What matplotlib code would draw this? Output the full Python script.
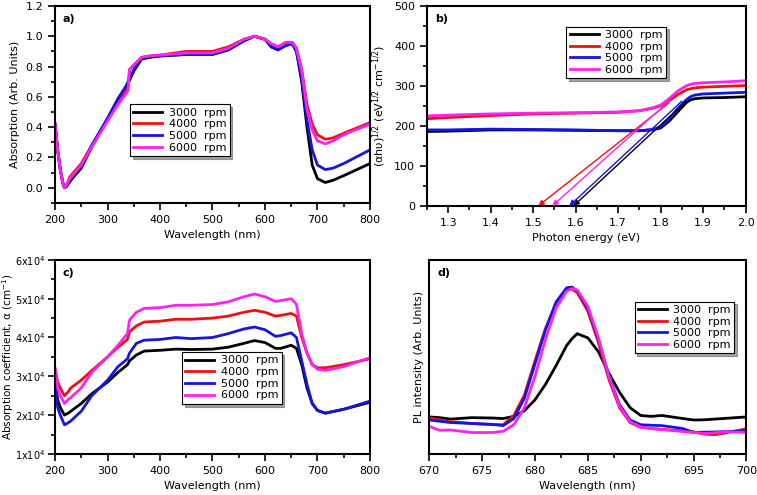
import numpy as np
import matplotlib
matplotlib.use('Agg')
from matplotlib import pyplot as plt
from matplotlib.ticker import MultipleLocator, FuncFormatter, NullLocator

labels = ['3000  rpm', '4000  rpm', '5000  rpm', '6000  rpm']
colors = ['black', '#ee1111', '#1515dd', '#ff22ee']

# a) absorption
wl_a = [200, 205, 210, 215, 218, 222, 228, 235, 250, 270, 300, 320, 335, 339, 342, 350, 365, 380, 400,
        450, 500, 530, 560, 580, 600, 612, 625, 640, 652, 660, 670, 680, 690, 700, 715, 730, 750, 800]
abs_3000 = [0.42, 0.25, 0.12, 0.03, 0.0, 0.01, 0.04, 0.07, 0.13, 0.27, 0.45, 0.58, 0.66, 0.69, 0.71, 0.77, 0.85, 0.86, 0.87,
            0.88, 0.88, 0.91, 0.97, 1.0, 0.98, 0.93, 0.91, 0.94, 0.95, 0.90, 0.70, 0.40, 0.15, 0.06, 0.035, 0.05, 0.08, 0.16]
abs_4000 = [0.42, 0.25, 0.12, 0.03, 0.0, 0.02, 0.07, 0.10, 0.16, 0.28, 0.45, 0.57, 0.64, 0.66, 0.78, 0.81, 0.86, 0.87, 0.875,
            0.90, 0.90, 0.93, 0.98, 1.0, 0.98, 0.95, 0.93, 0.96, 0.96, 0.92, 0.78, 0.55, 0.42, 0.35, 0.32, 0.33, 0.36, 0.43]
abs_5000 = [0.42, 0.25, 0.12, 0.03, 0.0, 0.01, 0.05, 0.08, 0.14, 0.28, 0.46, 0.59, 0.67, 0.70, 0.72, 0.78, 0.86, 0.865, 0.87,
            0.88, 0.88, 0.91, 0.97, 1.0, 0.98, 0.93, 0.91, 0.94, 0.95, 0.90, 0.72, 0.45, 0.25, 0.15, 0.12, 0.13, 0.16, 0.25]
abs_6000 = [0.42, 0.25, 0.12, 0.03, 0.0, 0.02, 0.06, 0.09, 0.15, 0.27, 0.44, 0.55, 0.62, 0.64, 0.78, 0.81, 0.86, 0.87, 0.875,
            0.89, 0.89, 0.92, 0.98, 1.0, 0.98, 0.95, 0.93, 0.96, 0.96, 0.92, 0.77, 0.52, 0.38, 0.31, 0.29, 0.31, 0.35, 0.42]

# b) Tauc plot
e_b = [1.25, 1.30, 1.40, 1.50, 1.60, 1.70, 1.75, 1.78, 1.80, 1.82, 1.84, 1.86, 1.87, 1.88, 1.90, 1.95, 2.00]
tauc_3000 = [186, 187, 190, 190, 189, 188, 188, 190, 195, 212, 235, 258, 265, 268, 270, 271, 273]
tauc_4000 = [218, 221, 226, 230, 232, 234, 238, 244, 250, 263, 278, 290, 293, 295, 297, 299, 301]
tauc_5000 = [190, 190, 192, 191, 190, 188, 188, 191, 198, 217, 243, 265, 273, 277, 280, 282, 284]
tauc_6000 = [225, 227, 230, 232, 233, 235, 238, 245, 252, 268, 287, 300, 304, 306, 308, 310, 313]
fit_x0 = [1.595, 1.512, 1.585, 1.545]   # intercepts (eV)
fit_x1 = [1.86, 1.82, 1.85, 1.82]
fit_y1 = [262, 258, 262, 262]

# c) absorption coefficient (x1e4)
wl_c = [200, 205, 210, 218, 225, 230, 250, 270, 300, 320, 338, 342, 355, 370, 400, 430, 460, 500, 530,
        560, 580, 600, 620, 630, 650, 660, 670, 680, 690, 700, 715, 750, 800]
ac_3000 = [2.9, 2.4, 2.2, 2.0, 2.05, 2.1, 2.3, 2.55, 2.85, 3.1, 3.3, 3.4, 3.55, 3.65, 3.67, 3.7, 3.69, 3.7, 3.75,
           3.85, 3.92, 3.87, 3.72, 3.72, 3.8, 3.72, 3.3, 2.7, 2.3, 2.12, 2.05, 2.15, 2.33]
ac_4000 = [3.2, 2.85, 2.7, 2.5, 2.6, 2.7, 2.9, 3.15, 3.5, 3.75, 3.95, 4.15, 4.3, 4.4, 4.42, 4.47, 4.47, 4.5, 4.55,
           4.65, 4.7, 4.65, 4.55, 4.57, 4.62, 4.55, 4.0, 3.6, 3.3, 3.22, 3.22, 3.3, 3.45]
ac_5000 = [2.9, 2.2, 2.0, 1.75, 1.8, 1.85, 2.1, 2.5, 2.9, 3.25, 3.45, 3.6, 3.85, 3.93, 3.95, 4.0, 3.97, 4.0, 4.1,
           4.22, 4.27, 4.2, 4.03, 4.05, 4.12, 4.0, 3.4, 2.8, 2.3, 2.12, 2.05, 2.15, 2.36]
ac_6000 = [3.2, 2.7, 2.5, 2.3, 2.4, 2.45, 2.7, 3.1, 3.5, 3.8, 4.1, 4.45, 4.65, 4.75, 4.77, 4.83, 4.83, 4.85, 4.92,
           5.05, 5.12, 5.05, 4.93, 4.95, 5.0, 4.85, 4.1, 3.6, 3.3, 3.18, 3.15, 3.25, 3.48]

# d) PL
wl_d = [670, 671, 672, 674, 676, 677, 678, 679, 680, 681, 682, 683, 683.5, 684, 685, 686, 687, 688, 689,
        690, 691, 692, 694, 695, 696, 697, 698, 700]
pl_3000 = [13.4, 13.0, 12.2, 13.0, 12.8, 12.5, 13.7, 16.8, 22.8, 31.4, 41.7, 52.8, 56.5, 59.3, 57.0, 49.4, 37.4, 27.0, 18.5,
           14.2, 13.7, 14.2, 12.5, 11.7, 11.8, 12.2, 12.6, 13.4]
pl_4000 = [12.9, 11.8, 10.8, 9.8, 9.1, 9.1, 14.2, 25.4, 44.3, 62.3, 76.0, 83.7, 83.8, 82.0, 71.7, 54.5, 34.0, 18.5, 10.3,
           7.7, 7.0, 6.5, 5.7, 5.2, 3.9, 3.6, 4.5, 6.9]
pl_5000 = [11.7, 11.0, 10.3, 9.8, 9.3, 8.6, 12.5, 23.7, 42.5, 61.4, 76.8, 84.6, 85.0, 82.8, 73.4, 56.3, 35.7, 20.2, 11.7,
           9.1, 8.8, 8.6, 7.0, 4.8, 5.0, 5.1, 5.3, 5.7]
pl_6000 = [8.2, 6.0, 6.2, 4.8, 4.8, 5.5, 9.1, 18.5, 35.7, 56.3, 73.4, 82.8, 84.2, 83.4, 74.4, 57.1, 35.7, 19.4, 10.8,
           7.9, 7.0, 6.5, 5.3, 4.8, 4.3, 4.6, 5.3, 4.8]

plt.rcParams['font.family'] = 'DejaVu Sans'
plt.rcParams['font.size'] = 8

fig = plt.figure(figsize=(7.57, 4.95), dpi=100)
ax_a = fig.add_axes([0.0727, 0.590, 0.416, 0.398])
ax_b = fig.add_axes([0.564, 0.584, 0.421, 0.404])
ax_c = fig.add_axes([0.0727, 0.083, 0.416, 0.392])
ax_d = fig.add_axes([0.567, 0.083, 0.419, 0.392])


def style(ax):
    for s in ax.spines.values():
        s.set_linewidth(1.5)
    ax.tick_params(which='both', direction='out', width=1.2, labelsize=8)
    ax.tick_params(which='major', length=5)
    ax.tick_params(which='minor', length=3)


def leg(ax, anchor):
    lg = ax.legend(loc='lower left', bbox_to_anchor=anchor, fontsize=8, fancybox=False, shadow=True,
                   framealpha=1, edgecolor='black', handlelength=2.6, borderpad=0.3, labelspacing=0.15,
                   handletextpad=0.6)
    lg.get_frame().set_linewidth(0.8)


for y, c, l in zip([abs_3000, abs_4000, abs_5000, abs_6000], colors, labels):
    ax_a.plot(wl_a, y, color=c, lw=2, label=l)
ax_a.set_xlim(200, 800)
ax_a.set_ylim(-0.1, 1.2)
ax_a.xaxis.set_major_locator(MultipleLocator(100))
ax_a.xaxis.set_minor_locator(MultipleLocator(50))
ax_a.yaxis.set_major_locator(MultipleLocator(0.2))
ax_a.yaxis.set_minor_locator(MultipleLocator(0.1))
ax_a.yaxis.set_major_formatter(FuncFormatter(lambda v, p: '%.1f' % v))
ax_a.set_xlabel('Wavelength (nm)')
ax_a.set_ylabel('Absorption (Arb. Units)')
ax_a.text(0.025, 0.96, 'a)', transform=ax_a.transAxes, fontweight='bold', va='top')
style(ax_a)
leg(ax_a, (0.22, 0.21))

for y, c, l, x0, x1, y1 in zip([tauc_3000, tauc_4000, tauc_5000, tauc_6000], colors, labels, fit_x0, fit_x1, fit_y1):
    ax_b.plot(e_b, y, color=c, lw=2, label=l)
    ax_b.annotate('', xy=(x0, 0), xytext=(x1, y1),
                  arrowprops=dict(arrowstyle='-|>', color=c, lw=1, mutation_scale=8, shrinkA=0, shrinkB=0))
ax_b.set_xlim(1.25, 2.0)
ax_b.set_ylim(0, 500)
ax_b.xaxis.set_major_locator(MultipleLocator(0.1))
ax_b.xaxis.set_minor_locator(MultipleLocator(0.05))
ax_b.yaxis.set_major_locator(MultipleLocator(100))
ax_b.yaxis.set_minor_locator(MultipleLocator(50))
ax_b.set_xlabel('Photon energy (eV)')
ax_b.set_ylabel(r'(αhυ)$^{1/2}$ (eV$^{1/2}$ cm$^{-1/2}$)')
ax_b.text(0.025, 0.96, 'b)', transform=ax_b.transAxes, fontweight='bold', va='top')
style(ax_b)
leg(ax_b, (0.42, 0.61))

for y, c, l in zip([ac_3000, ac_4000, ac_5000, ac_6000], colors, labels):
    ax_c.plot(wl_c, np.array(y) * 1e4, color=c, lw=2, label=l)
ax_c.set_xlim(200, 800)
ax_c.set_ylim(1e4, 6e4)
ax_c.xaxis.set_major_locator(MultipleLocator(100))
ax_c.xaxis.set_minor_locator(MultipleLocator(50))
ax_c.yaxis.set_major_locator(MultipleLocator(1e4))
ax_c.yaxis.set_minor_locator(MultipleLocator(5e3))
ax_c.yaxis.set_major_formatter(FuncFormatter(lambda v, p: r'%dx10$^4$' % round(v / 1e4)))
ax_c.set_xlabel('Wavelength (nm)')
ax_c.set_ylabel(r'Absorption coefficient, α (cm$^{-1}$)', fontsize=7.5)
ax_c.yaxis.set_label_coords(-0.125, 0.5)
ax_c.text(0.025, 0.96, 'c)', transform=ax_c.transAxes, fontweight='bold', va='top')
style(ax_c)
ax_c.tick_params(axis='y', labelsize=7, pad=2)
leg(ax_c, (0.385, 0.23))

for y, c, l in zip([pl_3000, pl_4000, pl_5000, pl_6000], colors, labels):
    ax_d.plot(wl_d, y, color=c, lw=2, label=l)
ax_d.set_xlim(670, 700)
ax_d.set_ylim(-7, 100)
ax_d.xaxis.set_major_locator(MultipleLocator(5))
ax_d.xaxis.set_minor_locator(MultipleLocator(2.5))
ax_d.yaxis.set_major_locator(NullLocator())
ax_d.set_xlabel('Wavelength (nm)')
ax_d.set_ylabel('PL intensity (Arb. Units)')
ax_d.text(0.025, 0.96, 'd)', transform=ax_d.transAxes, fontweight='bold', va='top')
style(ax_d)
leg(ax_d, (0.63, 0.49))

fig.savefig('out.png', dpi=100)
